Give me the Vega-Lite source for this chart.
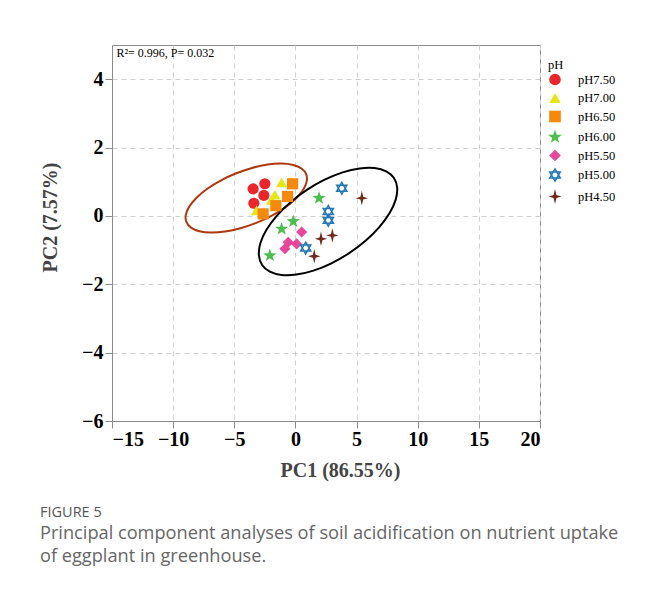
{
  "$schema": "https://vega.github.io/schema/vega-lite/v6.json",
  "width": 428,
  "height": 376,
  "autosize": {"type": "none"},
  "padding": {"left": 112, "top": 45, "right": 108, "bottom": 172},
  "background": "white",
  "datasets": {
    "pts": [
      {"pH": "pH7.50", "x": -3.46, "y": 0.79},
      {"pH": "pH7.50", "x": -2.50, "y": 0.94},
      {"pH": "pH7.50", "x": -2.58, "y": 0.60},
      {"pH": "pH7.50", "x": -3.40, "y": 0.37},
      {"pH": "pH7.00", "x": -1.13, "y": 0.98},
      {"pH": "pH7.00", "x": -1.68, "y": 0.62},
      {"pH": "pH7.00", "x": -1.95, "y": 0.47},
      {"pH": "pH7.00", "x": -3.18, "y": 0.16},
      {"pH": "pH6.50", "x": -0.23, "y": 0.94},
      {"pH": "pH6.50", "x": -0.64, "y": 0.57},
      {"pH": "pH6.50", "x": -1.60, "y": 0.30},
      {"pH": "pH6.50", "x": -2.64, "y": 0.06},
      {"pH": "pH6.00", "x": 1.93, "y": 0.52},
      {"pH": "pH6.00", "x": -0.18, "y": -0.16},
      {"pH": "pH6.00", "x": -1.13, "y": -0.38},
      {"pH": "pH6.00", "x": -2.09, "y": -1.16},
      {"pH": "pH5.50", "x": 0.51, "y": -0.47},
      {"pH": "pH5.50", "x": -0.59, "y": -0.77},
      {"pH": "pH5.50", "x": 0.10, "y": -0.82},
      {"pH": "pH5.50", "x": -0.86, "y": -0.96},
      {"pH": "pH5.00", "x": 3.79, "y": 0.81},
      {"pH": "pH5.00", "x": 2.69, "y": 0.13},
      {"pH": "pH5.00", "x": 2.69, "y": -0.13},
      {"pH": "pH5.00", "x": 0.84, "y": -0.94},
      {"pH": "pH4.50", "x": 5.43, "y": 0.52},
      {"pH": "pH4.50", "x": 3.02, "y": -0.57},
      {"pH": "pH4.50", "x": 2.09, "y": -0.67},
      {"pH": "pH4.50", "x": 1.54, "y": -1.18}
    ],
    "ell": [
      {"g": "a", "i": 0, "x": 0.877, "y": 1.222},
      {"g": "a", "i": 1, "x": 0.498, "y": 1.386},
      {"g": "a", "i": 2, "x": -0.189, "y": 1.491},
      {"g": "a", "i": 3, "x": -1.138, "y": 1.530},
      {"g": "a", "i": 4, "x": -2.281, "y": 1.501},
      {"g": "a", "i": 5, "x": -3.544, "y": 1.404},
      {"g": "a", "i": 6, "x": -4.840, "y": 1.248},
      {"g": "a", "i": 7, "x": -6.080, "y": 1.042},
      {"g": "a", "i": 8, "x": -7.179, "y": 0.801},
      {"g": "a", "i": 9, "x": -8.062, "y": 0.540},
      {"g": "a", "i": 10, "x": -8.671, "y": 0.279},
      {"g": "a", "i": 11, "x": -8.962, "y": 0.034},
      {"g": "a", "i": 12, "x": -8.917, "y": -0.178},
      {"g": "a", "i": 13, "x": -8.538, "y": -0.342},
      {"g": "a", "i": 14, "x": -7.851, "y": -0.447},
      {"g": "a", "i": 15, "x": -6.902, "y": -0.486},
      {"g": "a", "i": 16, "x": -5.759, "y": -0.457},
      {"g": "a", "i": 17, "x": -4.496, "y": -0.360},
      {"g": "a", "i": 18, "x": -3.200, "y": -0.204},
      {"g": "a", "i": 19, "x": -1.960, "y": 0.002},
      {"g": "a", "i": 20, "x": -0.861, "y": 0.243},
      {"g": "a", "i": 21, "x": 0.022, "y": 0.504},
      {"g": "a", "i": 22, "x": 0.631, "y": 0.765},
      {"g": "a", "i": 23, "x": 0.922, "y": 1.010},
      {"g": "b", "i": 0, "x": 8.056, "y": 1.109},
      {"g": "b", "i": 1, "x": 7.425, "y": 1.306},
      {"g": "b", "i": 2, "x": 6.468, "y": 1.402},
      {"g": "b", "i": 3, "x": 5.253, "y": 1.390},
      {"g": "b", "i": 4, "x": 3.862, "y": 1.274},
      {"g": "b", "i": 5, "x": 2.390, "y": 1.060},
      {"g": "b", "i": 6, "x": 0.935, "y": 0.762},
      {"g": "b", "i": 7, "x": -0.402, "y": 0.402},
      {"g": "b", "i": 8, "x": -1.528, "y": 0.002},
      {"g": "b", "i": 9, "x": -2.369, "y": -0.408},
      {"g": "b", "i": 10, "x": -2.868, "y": -0.802},
      {"g": "b", "i": 11, "x": -2.989, "y": -1.152},
      {"g": "b", "i": 12, "x": -2.724, "y": -1.435},
      {"g": "b", "i": 13, "x": -2.093, "y": -1.632},
      {"g": "b", "i": 14, "x": -1.136, "y": -1.728},
      {"g": "b", "i": 15, "x": 0.079, "y": -1.716},
      {"g": "b", "i": 16, "x": 1.470, "y": -1.600},
      {"g": "b", "i": 17, "x": 2.942, "y": -1.386},
      {"g": "b", "i": 18, "x": 4.397, "y": -1.088},
      {"g": "b", "i": 19, "x": 5.734, "y": -0.728},
      {"g": "b", "i": 20, "x": 6.860, "y": -0.328},
      {"g": "b", "i": 21, "x": 7.701, "y": 0.082},
      {"g": "b", "i": 22, "x": 8.200, "y": 0.476},
      {"g": "b", "i": 23, "x": 8.321, "y": 0.826}
    ],
    "note": [{"label": "R²= 0.996, P= 0.032", "x": -14.64, "y": 4.76}]
  },
  "config": {
    "view": {"stroke": "#8a8a8a", "strokeWidth": 1},
    "font": "Liberation Serif",
    "axis": {
      "domainColor": "#8a8a8a",
      "tickColor": "#8a8a8a",
      "tickSize": 7,
      "labelFont": "Liberation Serif",
      "labelFontSize": 20,
      "labelFontWeight": "bold",
      "labelColor": "#000",
      "titleFont": "Liberation Serif",
      "titleFontSize": 20,
      "titleFontWeight": "bold",
      "titleColor": "#444",
      "grid": true,
      "gridColor": "#cfcfcf",
      "gridDash": [5, 4],
      "gridWidth": 1
    },
    "axisX": {"labelPadding": 1, "titlePadding": 11, "titleX": 228},
    "axisY": {"labelPadding": 2, "titlePadding": 21, "titleY": 172},
    "legend": {
      "orient": "right",
      "offset": -6,
      "padding": 14,
      "titleFont": "Liberation Serif",
      "titleFontSize": 12.5,
      "titleFontWeight": "normal",
      "titleColor": "#000",
      "titlePadding": 1,
      "labelFont": "Liberation Serif",
      "labelFontSize": 12.5,
      "labelColor": "#000",
      "labelOffset": 16,
      "symbolSize": 135,
      "symbolStrokeWidth": 1.5,
      "rowPadding": 0.5
    }
  },
  "title": {
    "text": "FIGURE 5",
    "subtitle": ["Principal component analyses of soil acidification on nutrient uptake", "of eggplant in greenhouse."],
    "orient": "bottom",
    "anchor": "start",
    "frame": "group",
    "dx": -72,
    "offset": 26,
    "font": "Open Sans",
    "fontSize": 14.5,
    "fontWeight": 500,
    "color": "#555",
    "subtitleFont": "Open Sans",
    "subtitleFontSize": 18.2,
    "subtitleColor": "#666",
    "subtitleLineHeight": 23,
    "subtitlePadding": 4
  },
  "layer": [
    {
      "mark": {"type": "rule", "color": "#9a9a9a", "strokeWidth": 2, "strokeDash": [6, 4]},
      "encoding": {"x": {"datum": 0, "type": "quantitative", "scale": {"domain": [-15, 20], "nice": false}, "axis": {"title": "PC1 (86.55%)", "values": [-15, -10, -5, 0, 5, 10, 15, 20]}}}
    },
    {
      "mark": {"type": "rule", "color": "#9a9a9a", "strokeWidth": 2, "strokeDash": [6, 4]},
      "encoding": {"y": {"datum": 0, "type": "quantitative", "scale": {"domain": [-6, 5], "nice": false}, "axis": {"title": "PC2 (7.57%)", "values": [-6, -4, -2, 0, 2, 4]}}}
    },
    {
      "data": {"name": "ell"},
      "transform": [{"filter": "datum.g == 'a'"}],
      "mark": {"type": "line", "interpolate": "cardinal-closed", "color": "#b0360e", "strokeWidth": 2},
      "encoding": {
        "x": {"field": "x", "type": "quantitative", "title": "PC1 (86.55%)"},
        "y": {"field": "y", "type": "quantitative", "title": "PC2 (7.57%)"},
        "order": {"field": "i", "type": "quantitative"}
      }
    },
    {
      "data": {"name": "ell"},
      "transform": [{"filter": "datum.g == 'b'"}],
      "mark": {"type": "line", "interpolate": "cardinal-closed", "color": "#000000", "strokeWidth": 2},
      "encoding": {
        "x": {"field": "x", "type": "quantitative", "title": "PC1 (86.55%)"},
        "y": {"field": "y", "type": "quantitative", "title": "PC2 (7.57%)"},
        "order": {"field": "i", "type": "quantitative"}
      }
    },
    {
      "data": {"name": "pts"},
      "mark": {"type": "point", "filled": true, "size": 125, "opacity": 1, "strokeWidth": 1.5},
      "encoding": {
        "x": {"field": "x", "type": "quantitative", "title": "PC1 (86.55%)"},
        "y": {"field": "y", "type": "quantitative", "title": "PC2 (7.57%)"},
        "fill": {
          "field": "pH", "type": "nominal", "title": "pH",
          "scale": {
            "domain": ["pH7.50", "pH7.00", "pH6.50", "pH6.00", "pH5.50", "pH5.00", "pH4.50"],
            "range": ["#e8262b", "#e6e617", "#f5890c", "#4dbd4d", "#e6479c", "transparent", "#712b1c"]
          }
        },
        "stroke": {
          "field": "pH", "type": "nominal", "title": "pH",
          "scale": {
            "domain": ["pH7.50", "pH7.00", "pH6.50", "pH6.00", "pH5.50", "pH5.00", "pH4.50"],
            "range": ["transparent", "transparent", "transparent", "transparent", "transparent", "#2277b5", "transparent"]
          }
        },
        "shape": {
          "field": "pH", "type": "nominal", "title": "pH",
          "scale": {
            "domain": ["pH7.50", "pH7.00", "pH6.50", "pH6.00", "pH5.50", "pH5.00", "pH4.50"],
            "range": [
              "circle",
              "triangle-up",
              "square",
              "M0,-1.25L0.294,-0.405L1.189,-0.386L0.475,0.155L0.735,1.011L0,0.5L-0.735,1.011L-0.475,0.155L-1.189,-0.386L-0.294,-0.405Z",
              "diamond",
              "M0,-1.05L0.91,0.525L-0.91,0.525Z M0,1.05L0.91,-0.525L-0.91,-0.525Z",
              "M0,-1.3L0.25,-0.25L1.1,0L0.25,0.25L0,1.3L-0.25,0.25L-1.1,0L-0.25,-0.25Z"
            ]
          }
        }
      }
    },
    {
      "data": {"name": "note"},
      "mark": {"type": "text", "align": "left", "baseline": "middle", "font": "Liberation Serif", "fontSize": 12, "color": "#000"},
      "encoding": {
        "x": {"field": "x", "type": "quantitative", "title": "PC1 (86.55%)"},
        "y": {"field": "y", "type": "quantitative", "title": "PC2 (7.57%)"},
        "text": {"field": "label"}
      }
    }
  ]
}
